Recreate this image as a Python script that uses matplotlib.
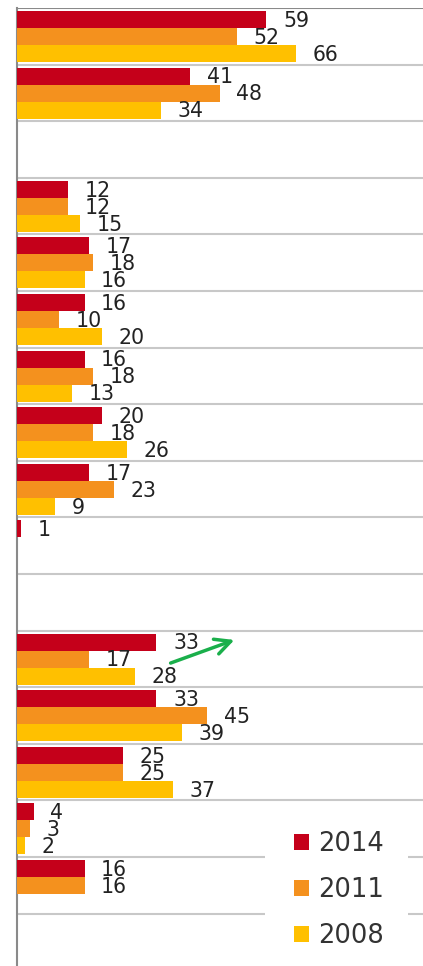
import matplotlib
matplotlib.use("Agg")
import matplotlib.pyplot as plt
from matplotlib.patches import Patch, Rectangle
import numpy as np

years = ["2014", "2011", "2008"]
colors = ["#C5001A", "#F4911E", "#FFC000"]
# One entry per row (top to bottom); None = no bar
v2014 = [59, 41, None, 12, 17, 16, 16, 20, 17, 1, None, 33, 33, 25, 4, 16, None]
v2011 = [52, 48, None, 12, 18, 10, 18, 18, 23, None, None, 17, 45, 25, 3, 16, None]
v2008 = [66, 34, None, 15, 16, 20, 13, 26, 9, None, None, 28, 39, 37, 2, None, None]
series = [v2014, v2011, v2008]

W, H = 423, 966
fig = plt.figure(figsize=(W / 100, H / 100), dpi=100)
nrows = len(v2014)
row_px = 56.6
top_px = 8
bottom_px = top_px + nrows * row_px
x0_px = 17
ax = fig.add_axes([x0_px / W, 1 - bottom_px / H, 1 - x0_px / W, (bottom_px - top_px) / H])
ax.set_ylim(nrows, 0)
ax.set_xlim(0, (W - x0_px) / 4.227)

bar_h = 0.30
offsets = [0.053 + 0.15, 0.053 + 0.45, 0.053 + 0.75]
for s, vals in enumerate(series):
    for i, v in enumerate(vals):
        if v is None:
            continue
        y = i + offsets[s]
        ax.barh(y, v, height=bar_h, color=colors[s], zorder=3)
        ax.annotate(str(v), (v, y), xytext=(11.9, -1.0), textcoords="offset points",
                    ha="left", va="center", fontsize=14.8, color="#222222", zorder=5)

# row separators
for k in range(1, nrows):
    ax.axhline(k, color="#c8c8c8", lw=1.5, zorder=1)
ax.axhline(0, color="#8a8a8a", lw=1.5, zorder=1)

for sp in ["top", "right", "bottom"]:
    ax.spines[sp].set_visible(False)
ax.spines["left"].set_color("#8a8a8a")
ax.spines["left"].set_linewidth(1.5)
ax.set_xticks([])
ax.set_yticks([])

# green arrow
ax.annotate("", xy=((237 - x0_px) / 4.227, (639 - top_px) / row_px),
            xytext=((168 - x0_px) / 4.227, (664 - top_px) / row_px),
            arrowprops=dict(arrowstyle="->", color="#1aaf4b", lw=2.5, mutation_scale=28),
            zorder=6)

# white box behind legend breaking the gridlines
fig.patches.append(Rectangle((265 / W, 0), (408 - 265) / W, 1 - 822 / H,
                             transform=fig.transFigure, facecolor="white",
                             edgecolor="none", zorder=2))

handles = [Patch(facecolor=c, edgecolor="none") for c in colors]
leg = fig.legend(handles, years, loc="upper left", bbox_to_anchor=(294 / W, 1 - 831 / H),
                 frameon=False, fontsize=18.5, handlelength=0.6, handleheight=0.6,
                 handletextpad=0.35, labelspacing=0.78, borderpad=0, borderaxespad=0)
for t in leg.get_texts():
    t.set_color("#333333")
leg.set_zorder(10)

fig.savefig("out.png", dpi=100)
